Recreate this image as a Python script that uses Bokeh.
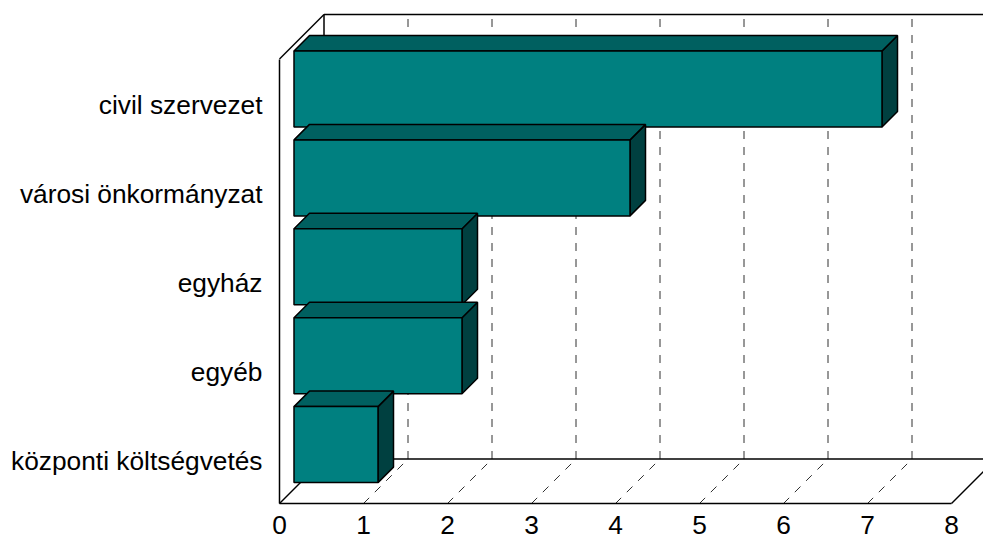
from bokeh.plotting import figure
from bokeh.models import Range1d, LinearAxis, FixedTicker
from bokeh.embed import file_html
from bokeh.resources import INLINE

# data (top to bottom)
categories = ["civil szervezet", "városi önkormányzat", "egyház", "egyéb", "központi költségvetés"]
values = [7, 4, 2, 2, 1]
x_ticks = [0, 1, 2, 3, 4, 5, 6, 7, 8]

# layout scale (px per unit)
W, H = 983, 539
LEFT, BOTTOM = 279, 36
PX_X, PX_Y = 84.0, 88.9
DEPTH = 44.5            # full floor depth in px
WALL_GAP = 14.5         # gap between front plane and bar front, px
BAR_DEPTH = 15.5        # bar depth, px
GAP_TOP, BAR_H = 6.5, 76.0
LABEL_SHIFT = 1.5       # category label nudge, px

n = len(categories)
dx = DEPTH / PX_X
dy = DEPTH / PX_Y
gx = WALL_GAP / PX_X
gy = WALL_GAP / PX_Y
bdx = BAR_DEPTH / PX_X
bdy = BAR_DEPTH / PX_Y
xmax = max(x_ticks)
xend = (W - LEFT) / PX_X

# the frame fills the figure so both axes' labels can sit inside it
p = figure(width=W, height=H, output_backend="svg", toolbar_location=None,
           x_range=Range1d(-LEFT / PX_X, xend),
           y_range=Range1d(-BOTTOM / PX_Y, (H - BOTTOM) / PX_Y),
           x_axis_type=None, y_axis_type=None,
           min_border_left=0, min_border_bottom=0, min_border_top=0, min_border_right=0,
           outline_line_color=None, background_fill_color="white", border_fill_color="white")
p.grid.visible = False

LW = 1.5
GRID = "#303030"
inner = [t for t in x_ticks if 0 < t < xmax]

# dashed gridlines on back wall and floor
p.segment([t + dx for t in inner], [dy] * len(inner), [t + dx for t in inner], [n + dy] * len(inner),
          line_color=GRID, line_width=1, line_dash="8 8")
p.segment(inner, [0] * len(inner), [t + dx for t in inner], [dy] * len(inner),
          line_color=GRID, line_width=1, line_dash="8 8")

# wall and floor edges
p.segment([dx, dx, 0, 0, dx, xmax],
          [n + dy, dy, n, 0, dy, 0],
          [xend + 1, dx, dx, dx, xend + 1, xmax + dx],
          [n + dy, n + dy, n + dy, dy, dy, dy],
          line_color="black", line_width=LW)

# 3D bars, upper bars first
for i, v in enumerate(values):
    top = n - i - GAP_TOP / PX_Y + gy
    bot = top - BAR_H / PX_Y
    x0, x1 = gx, v + gx
    # side
    p.patch([x1, x1 + bdx, x1 + bdx, x1], [bot, bot + bdy, top + bdy, top],
            fill_color="#004040", line_color="black", line_width=LW)
    # top face
    p.patch([x0, x0 + bdx, x1 + bdx, x1], [top, top + bdy, top + bdy, top],
            fill_color="#006060", line_color="black", line_width=LW)
    # front
    p.quad(left=[x0], right=[x1], bottom=[bot], top=[top],
           fill_color="#008080", line_color="black", line_width=LW)

FONT = "Liberation Sans"
xax = LinearAxis(ticker=FixedTicker(ticks=x_ticks), bounds=(0, xmax), fixed_location=0)
y_pos = [n - i - 0.5 - LABEL_SHIFT / PX_Y for i in range(n)]
yax = LinearAxis(ticker=FixedTicker(ticks=y_pos), bounds=(0, n), fixed_location=0)
yax.major_label_overrides = {y: c for y, c in zip(y_pos, categories)}
for ax in (xax, yax):
    ax.major_tick_line_color = None
    ax.minor_tick_line_color = None
    ax.major_tick_out = 0
    ax.major_tick_in = 0
    ax.minor_tick_out = 0
    ax.minor_tick_in = 0
    ax.axis_line_color = "black"
    ax.axis_line_width = LW
    ax.major_label_text_font = FONT
    ax.major_label_text_font_size = "26.3px"
    ax.major_label_text_color = "black"
xax.major_label_standoff = 12
yax.major_label_standoff = 17
p.add_layout(xax, "below")
p.add_layout(yax, "left")

open("out.html", "w").write(file_html(p, INLINE))
